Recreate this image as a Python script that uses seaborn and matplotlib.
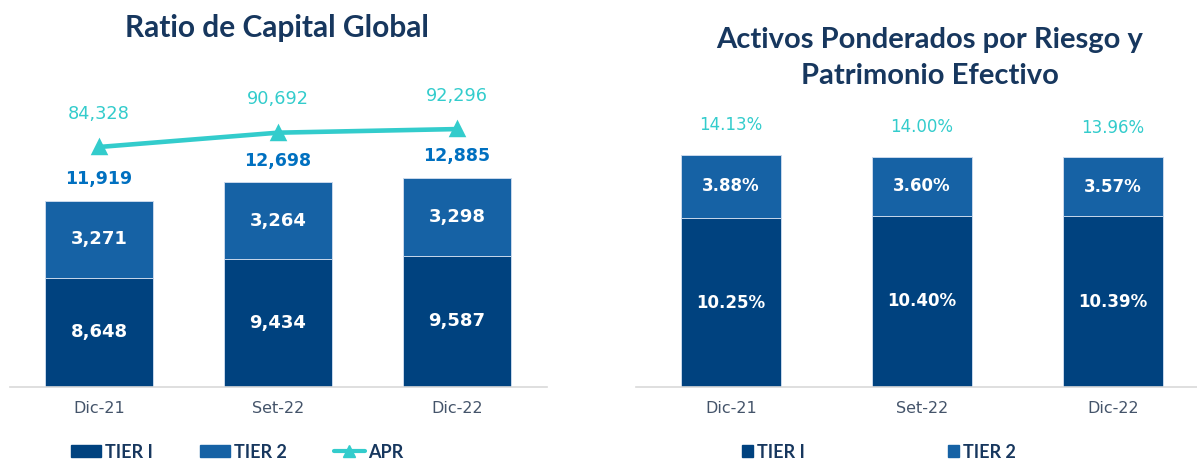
import numpy as np
import pandas as pd
import matplotlib.pyplot as plt
from matplotlib.patches import Patch
from matplotlib.lines import Line2D
import seaborn as sns

# data
periods = ['Dic-21', 'Set-22', 'Dic-22']
tier1_cap = [8648, 9434, 9587]
tier2_cap = [3271, 3264, 3298]
apr = [84328, 90692, 92296]
tier1_pct = [10.25, 10.40, 10.39]
tier2_pct = [3.88, 3.60, 3.57]

C_T1 = '#00427F'
C_T2 = '#1662A5'
C_APR = '#33CCCC'
C_TOT = '#0070C0'
C_TITLE = '#17375E'
C_TICK = '#44546A'
EDGE = '#C9D9EC'

sns.set_style('white')
plt.rcParams['font.family'] = ['DejaVu Sans']

W, H = 1197, 463
fig = plt.figure(figsize=(W / 100, H / 100), dpi=100)
axL = fig.add_axes([9.5 / W, 1 - 387 / H, 537 / W, 297 / H])
axR = fig.add_axes([635.5 / W, 1 - 387 / H, (W - 635.5) / W, 297 / H])

cap = pd.DataFrame({'periodo': periods, 't1': tier1_cap, 't2': tier2_cap})
cap['total'] = cap['t1'] + cap['t2']
pct = pd.DataFrame({'periodo': periods, 't1': tier1_pct, 't2': tier2_pct})
pct['total'] = pct['t1'] + pct['t2']

### left: Ratio de Capital Global ###
sns.barplot(data=cap, x='periodo', y='total', color=C_T2, saturation=1, width=0.6,
            edgecolor=EDGE, linewidth=0.7, ax=axL)
sns.barplot(data=cap, x='periodo', y='t1', color=C_T1, saturation=1, width=0.6,
            edgecolor=EDGE, linewidth=0.7, ax=axL)
y0 = 4000
axL.set_ylim(y0, 16620)
axL.set_xlim(-0.5, 2.5)

for i, r in cap.iterrows():
    axL.text(i, (y0 + r['t1']) / 2, f"{r['t1']:,}", ha='center', va='center',
             color='white', fontsize=13, fontweight='bold')
    axL.text(i, (r['t1'] + r['total']) / 2, f"{r['t2']:,}", ha='center', va='center',
             color='white', fontsize=13, fontweight='bold')
    axL.annotate(f"{r['total']:,}", (i, r['total']), xytext=(0, 15.5), textcoords='offset points',
                 ha='center', va='center', color=C_TOT, fontsize=12.5, fontweight='bold')

axA = axL.twinx()
sns.pointplot(x=periods, y=apr, color=C_APR, markers='^', linestyles='-',
              markersize=9, linewidth=3.3, ax=axA)
axA.set_ylim(-22340, 109660)
axA.set_xlim(-0.5, 2.5)
for i, v in enumerate(apr):
    axA.annotate(f"{v:,}", (i, v), xytext=(0, 24), textcoords='offset points',
                 ha='center', va='center', color=C_APR, fontsize=12.8)
axA.axis('off')

### right: Activos Ponderados por Riesgo y Patrimonio Efectivo ###
sns.barplot(data=pct, x='periodo', y='total', color=C_T2, saturation=1, width=0.524,
            edgecolor=EDGE, linewidth=0.7, ax=axR)
sns.barplot(data=pct, x='periodo', y='t1', color=C_T1, saturation=1, width=0.524,
            edgecolor=EDGE, linewidth=0.7, ax=axR)
axR.set_ylim(0, 18.05)
axR.set_xlim(-0.5, 2.44)
for i, r in pct.iterrows():
    axR.text(i, r['t1'] / 2, f"{r['t1']:.2f}%", ha='center', va='center',
             color='white', fontsize=12, fontweight='bold')
    axR.text(i, (r['t1'] + r['total']) / 2, f"{r['t2']:.2f}%", ha='center', va='center',
             color='white', fontsize=12, fontweight='bold')
    axR.annotate(f"{r['total']:.2f}%", (i, r['total']), xytext=(0, 21), textcoords='offset points',
                 ha='center', va='center', color=C_APR, fontsize=12)

for ax in (axL, axR):
    ax.set_xlabel('')
    ax.set_ylabel('')
    ax.set_yticks([])
    for s in ('top', 'left', 'right'):
        ax.spines[s].set_visible(False)
    ax.spines['bottom'].set_color('#D9D9D9')
    ax.spines['bottom'].set_linewidth(1.2)
    ax.tick_params(axis='x', length=0, pad=10, labelsize=11.5, labelcolor=C_TICK)

# titles
fig.text(277 / W, 1 - 28 / H, 'Ratio de Capital Global', ha='center', va='center',
         fontsize=21.5, fontweight='bold', color=C_TITLE, family='Lato')
fig.text(930 / W, 1 - 58 / H, 'Activos Ponderados por Riesgo y\nPatrimonio Efectivo',
         ha='center', va='center', fontsize=21, fontweight='bold', color=C_TITLE,
         family='Lato', linespacing=1.5)

# legends
leg_font = {'family': 'Lato', 'weight': 'bold', 'size': 13}
hL = [Patch(facecolor=C_T1, edgecolor=C_T1), Patch(facecolor=C_T2, edgecolor=C_T2),
      Line2D([], [], color=C_APR, lw=3, marker='^', markersize=9)]
lgL = fig.legend(hL, ['TIER I', 'TIER 2', 'APR'], loc='center', bbox_to_anchor=(237 / W, 1 - 452 / H),
                 ncol=3, frameon=False, prop=leg_font, handlelength=1.7, handleheight=0.6,
                 handletextpad=0.2, columnspacing=2.6)
hR = [Patch(facecolor=C_T1, edgecolor=C_T1), Patch(facecolor=C_T2, edgecolor=C_T2)]
lgR = fig.legend(hR, ['TIER I', 'TIER 2'], loc='center', bbox_to_anchor=(879 / W, 1 - 452 / H),
                 ncol=2, frameon=False, prop=leg_font, handlelength=0.6, handleheight=0.6,
                 handletextpad=0.25, columnspacing=7.9)
for lg in (lgL, lgR):
    for t in lg.get_texts():
        t.set_color(C_TITLE)

fig.savefig('out.png', dpi=100)
